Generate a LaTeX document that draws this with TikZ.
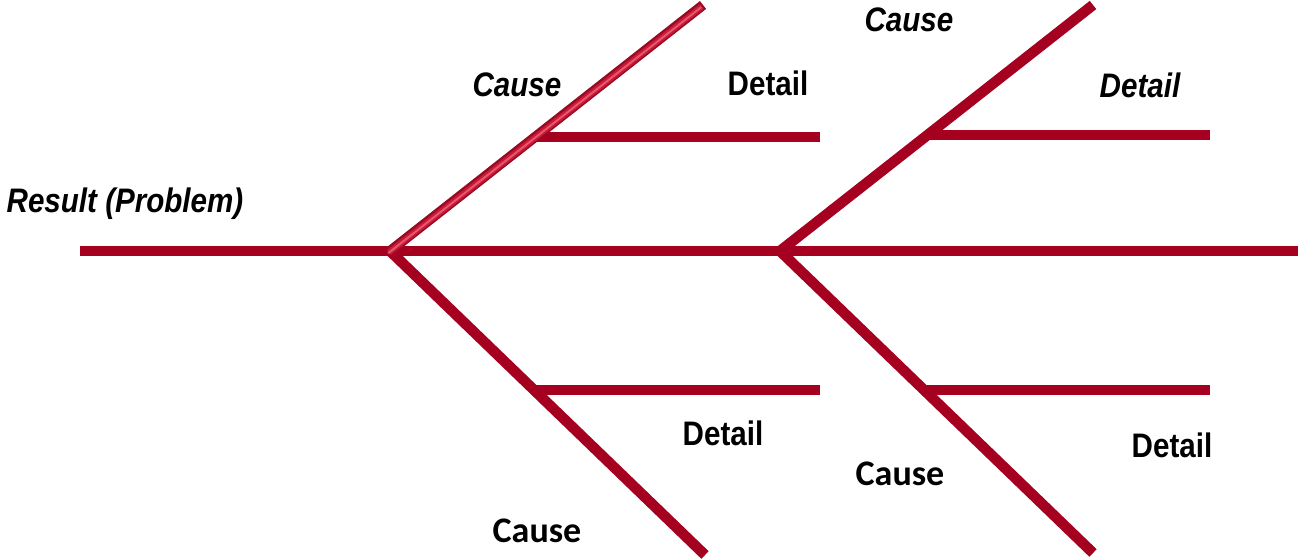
\documentclass[tikz,border=0pt]{standalone}
\usepackage{fontspec}
\setmainfont{Liberation Sans}
\newfontfamily\narrowsans[FakeStretch=0.87]{Liberation Sans}
\newfontfamily\calib{Carlito}
\definecolor{bone}{RGB}{166,0,32}
\definecolor{bonedark}{RGB}{150,10,35}
\definecolor{bonelight}{RGB}{200,25,55}
\definecolor{bonehigh}{RGB}{232,85,110}
\begin{document}
\begin{tikzpicture}[x=1pt,y=-1pt,
  boneline/.style={draw=bone,line width=10.5pt},
  lbl/.style={font=\fontsize{34}{40}\selectfont\narrowsans\bfseries, inner sep=0pt, anchor=center},
  lbli/.style={font=\fontsize{34}{40}\selectfont\narrowsans\bfseries\itshape, inner sep=0pt, anchor=center},
  lblc/.style={font=\fontsize{36}{42}\selectfont\calib\bfseries, inner sep=0pt, anchor=center}]
\useasboundingbox (0,0) rectangle (1298,559);
% coordinates
\coordinate (s0) at (80,251);
\coordinate (s1) at (1298,251);
\coordinate (j1) at (390,251);
\coordinate (j2) at (780,251);
\coordinate (u1) at (703,5);
\coordinate (d1) at (705,555);
\coordinate (u2) at (1093,5);
\coordinate (d2) at (1093,553);
\coordinate (a1) at (536,137);
\coordinate (a1e) at (820,137);
\coordinate (b1) at (534,390);
\coordinate (b1e) at (820,390);
\coordinate (a2) at (927,135);
\coordinate (a2e) at (1210,135);
\coordinate (b2) at (923,390);
\coordinate (b2e) at (1210,390);
% bones
\draw[boneline] (s0) -- (s1);
\draw[boneline] (j1) -- (d1);
\draw[boneline] (j2) -- (u2);
\draw[boneline] (j2) -- (d2);
\draw[boneline] (a1) -- (a1e);
\draw[boneline] (b1) -- (b1e);
\draw[boneline] (a2) -- (a2e);
\draw[boneline] (b2) -- (b2e);
% shaded upper bone
\draw[draw=bonedark,line width=10pt] (j1) -- (u1);
\draw[draw=bonelight,line width=6pt,transform canvas={xshift=-1.2pt,yshift=-1.5pt}] (j1) -- (u1);
\draw[draw=bonehigh,line width=2pt,transform canvas={xshift=-1.8pt,yshift=-2.2pt}] (j1) -- (u1);
% labels
\node[lbli] (res) at (125,204) {Result (Problem)};
\node[lbli] (c1) at (517,85) {Cause};
\node[lbl] (t1) at (768,83) {Detail};
\node[lbli] (c2) at (909,20) {Cause};
\node[lbli] (t2) at (1140,85) {Detail};
\node[lbl] (t3) at (723,433) {Detail};
\node[lblc] (c3) at (537,531) {Cause};
\node[lblc] (c4) at (900,474) {Cause};
\node[lbl] (t4) at (1172,445) {Detail};
\end{tikzpicture}
\end{document}
